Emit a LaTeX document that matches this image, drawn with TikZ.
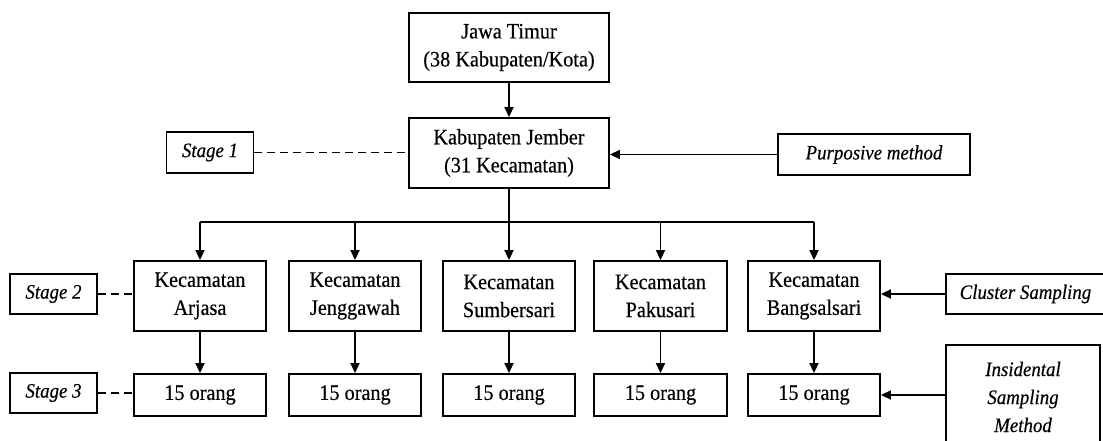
\documentclass[tikz,border=0pt]{standalone}
\usepackage{fontspec}
\setmainfont{Liberation Serif}[FakeStretch=0.92,FakeBold=0.4]
\usetikzlibrary{arrows.meta,calc}
\begin{document}
\begin{tikzpicture}[x=1pt,y=-1pt,
  box/.style={draw,line width=1.9pt,inner sep=0pt,align=center,font=\fontsize{22}{28}\selectfont},
  lbl/.style={draw,line width=1.9pt,inner sep=0pt,align=center,font=\fontsize{20.5}{28}\selectfont\itshape},
  arr/.style={line width=1.9pt,-{Triangle[length=10pt,width=9pt]}},
  conn/.style={line width=1.9pt},
  dsh/.style={line width=1.9pt,dash pattern=on 8pt off 5pt}]
\useasboundingbox (0,0) rectangle (1103,441);
\clip (0,0) rectangle (1103,441);
% top
\node[box,minimum width=200pt,minimum height=69pt] (jt) at (509,47.5) {Jawa Timur\\(38 Kabupaten/Kota)};
\node[box,minimum width=200pt,minimum height=70pt] (kj) at (509,153) {Kabupaten Jember\\(31 Kecamatan)};
\node[lbl,minimum width=87pt,minimum height=41pt] (s1) at (210,152.5) {Stage 1};
\node[lbl,minimum width=192pt,minimum height=41pt] (pm) at (874,154.5) {Purposive method};
% row 2
\node[box,minimum width=132pt,minimum height=70pt] (a) at (200,296) {Kecamatan\\Arjasa};
\node[box,minimum width=132pt,minimum height=70pt] (b) at (355,296) {Kecamatan\\Jenggawah};
\node[box,minimum width=132pt,minimum height=70pt] (c) at (509,296) {Kecamatan\\Sumbersari};
\node[box,minimum width=133pt,minimum height=70pt] (d) at (660.5,296) {Kecamatan\\Pakusari};
\node[box,minimum width=132pt,minimum height=70pt] (e) at (814,296) {Kecamatan\\Bangsalsari};
% row 3
\node[box,minimum width=132pt,minimum height=42pt] (ra) at (200,395) {15 orang};
\node[box,minimum width=132pt,minimum height=42pt] (rb) at (355,395) {15 orang};
\node[box,minimum width=132pt,minimum height=42pt] (rc) at (509,395) {15 orang};
\node[box,minimum width=133pt,minimum height=42pt] (rd) at (660.5,395) {15 orang};
\node[box,minimum width=132pt,minimum height=42pt] (re) at (814,395) {15 orang};
% stage labels
\node[lbl,minimum width=87pt,minimum height=40pt] (s2) at (53.5,294) {Stage 2};
\node[lbl,minimum width=87pt,minimum height=40pt] (s3) at (53.5,393) {Stage 3};
% right methods
\node[lbl,minimum width=161pt,minimum height=40pt,anchor=west] (cs) at (945,294) {\hspace*{-2pt}Cluster Sampling};
\node[lbl,minimum width=154pt,minimum height=104pt] (is) at (1023,397) {Insidental\\Sampling\\Method};
% connectors
\coordinate (bus) at (509,222);
\draw[arr] (jt) -- (kj);
\draw[conn] (kj.south) -- (bus);
\draw[conn] (bus -| a.north) -- (bus -| e.north);
\draw[arr] (bus -| a.north) -- (a.north);
\draw[arr] (bus -| b.north) -- (b.north);
\draw[arr] (bus) -- (c.north);
\draw[arr] (bus -| d.north) -- (d.north);
\draw[arr] (bus -| e.north) -- (e.north);
\draw[arr] (a) -- (ra);
\draw[arr] (b) -- (rb);
\draw[arr] (c) -- (rc);
\draw[arr] (d) -- (rd);
\draw[arr] (e) -- (re);
\draw[arr] (pm.west) -- (pm.west -| kj.east);
\draw[arr] (cs.west) -- (cs.west -| e.east);
\draw[arr] (re.east -| is.west) -- (re.east);
\draw[dsh] (s1.east) -- (s1.east -| kj.west);
\draw[dsh] (s2.east) -- (s2.east -| a.west);
\draw[dsh] (s3.east) -- (s3.east -| ra.west);
\end{tikzpicture}
\end{document}
